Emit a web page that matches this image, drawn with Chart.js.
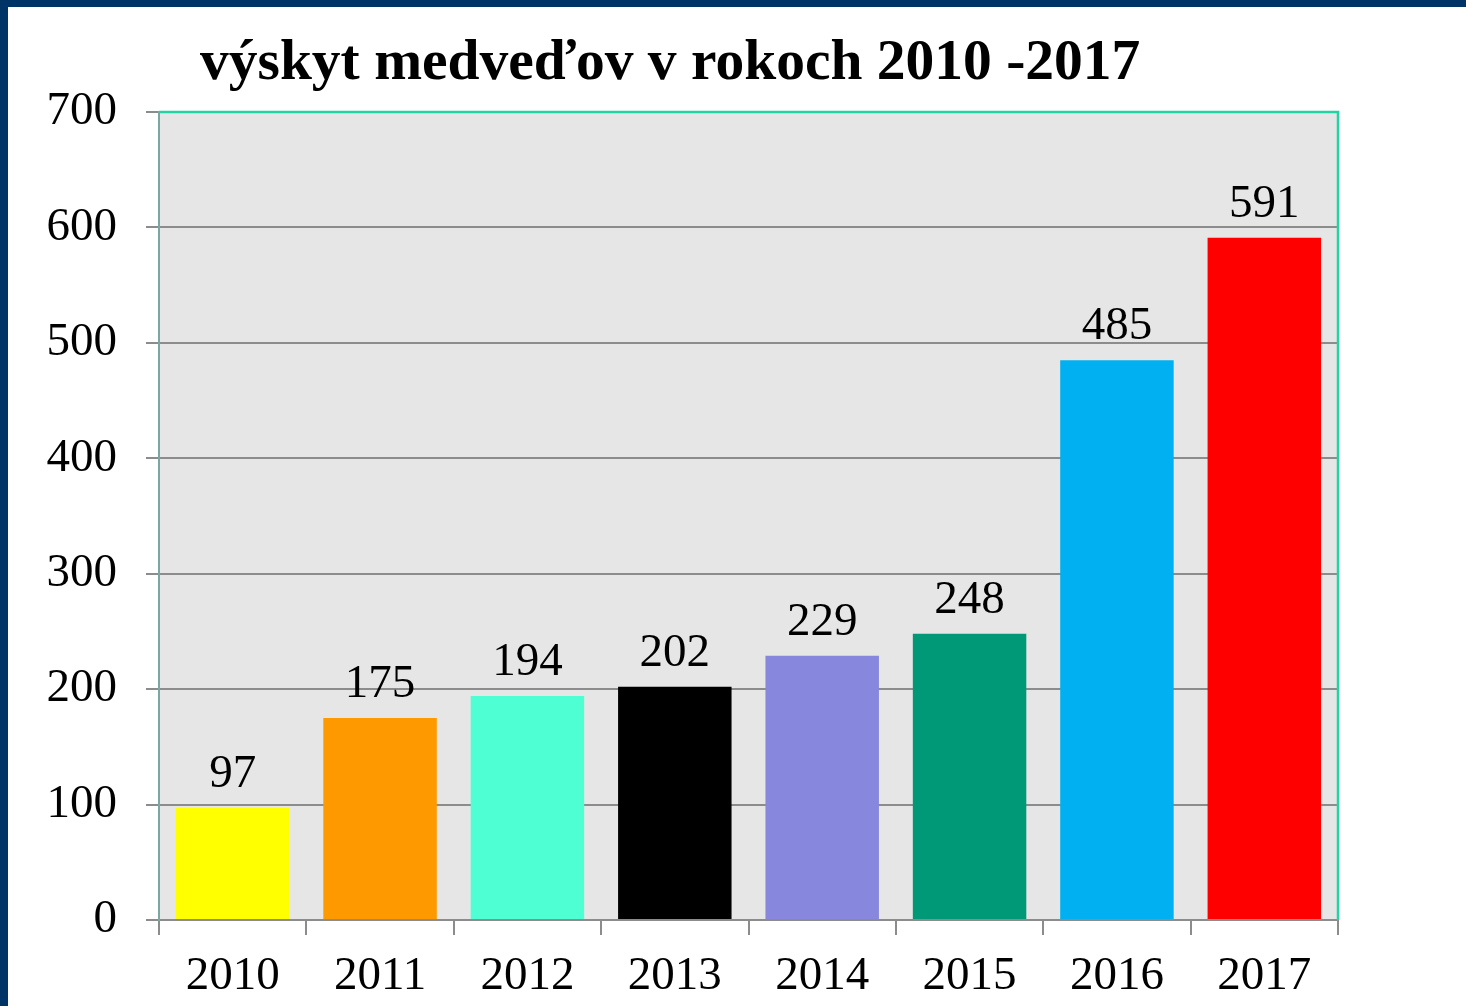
<!DOCTYPE html>
<html>
<head>
<meta charset="utf-8">
<script src="https://cdn.jsdelivr.net/npm/chart.js@4"></script>
<style>
  html, body { margin: 0; padding: 0; background: #fff; }
  #wrap { position: relative; width: 1466px; height: 1006px; overflow: hidden; }
  #frameTop { position: absolute; left: 0; top: 0; width: 1466px; height: 7px; background: #003366; }
  #frameLeft { position: absolute; left: 0; top: 0; width: 8px; height: 1006px; background: #003366; }
  #title { position: absolute; left: 200px; top: 27px; margin: 0;
    font: bold 57.5px "Liberation Serif", "Times New Roman", serif; color: #000; white-space: nowrap; }
  canvas { position: absolute; left: 0; top: 0; }
</style>
</head>
<body>
<div id="wrap">
  <canvas id="bearChart" width="1466" height="1006"></canvas>
  <div id="frameTop"></div>
  <div id="frameLeft"></div>
  <h1 id="title">výskyt medveďov v rokoch 2010 -2017</h1>
</div>
<script>
// data
var years = ["2010", "2011", "2012", "2013", "2014", "2015", "2016", "2017"];
var bears = [97, 175, 194, 202, 229, 248, 485, 591];
var barColors = ["#ffff00", "#ff9900", "#4dffd2", "#000000", "#8787de", "#009977", "#00b0f0", "#ff0000"];

var serif = "'Liberation Serif', 'Times New Roman', serif";

// grey plot background and teal frame on top/right
var plotFrame = {
  id: "plotFrame",
  beforeDraw: function(chart) {
    var a = chart.chartArea, ctx = chart.ctx;
    ctx.save();
    ctx.fillStyle = "#e6e6e6";
    ctx.fillRect(a.left, a.top, a.right - a.left, a.bottom - a.top);
    ctx.restore();
  },
  afterDraw: function(chart) {
    var a = chart.chartArea, ctx = chart.ctx;
    ctx.save();
    ctx.strokeStyle = "#22d3a3";
    ctx.lineWidth = 2.5;
    ctx.beginPath();
    ctx.moveTo(a.left, a.top);
    ctx.lineTo(a.right, a.top);
    ctx.lineTo(a.right, a.bottom);
    ctx.stroke();
    ctx.restore();
  }
};

// value labels above the bars
var valueLabels = {
  id: "valueLabels",
  afterDatasetsDraw: function(chart) {
    var ctx = chart.ctx;
    var meta = chart.getDatasetMeta(0);
    ctx.save();
    ctx.font = "47px " + serif;
    ctx.fillStyle = "#000";
    ctx.textAlign = "center";
    ctx.textBaseline = "alphabetic";
    meta.data.forEach(function(bar, i) {
      ctx.fillText(String(bears[i]), bar.x, bar.y - 21);
    });
    ctx.restore();
  }
};

var ctx = document.getElementById("bearChart");
var bearChart = new Chart(ctx, {
  type: "bar",
  data: {
    labels: years,
    datasets: [{
      data: bears,
      backgroundColor: barColors,
      borderWidth: 0,
      barPercentage: 0.77,
      categoryPercentage: 1.0
    }]
  },
  options: {
    responsive: false,
    animation: false,
    layout: { padding: { top: 112, right: 128, left: 0, bottom: 0 } },
    plugins: {
      legend: { display: false },
      tooltip: { enabled: false },
      title: { display: false }
    },
    scales: {
      x: {
        afterFit: function(scale) { scale.height = 86; },
        grid: { display: true, drawOnChartArea: false, drawTicks: true, tickLength: 15, color: "#8c8c8c", lineWidth: 2, offset: true },
        border: { display: true, color: "#8c8c8c", width: 2 },
        ticks: { color: "#000", font: { family: serif, size: 47 }, padding: 13, maxRotation: 0 }
      },
      y: {
        min: 0,
        max: 700,
        afterFit: function(scale) { scale.width = 159; },
        grid: { color: "#8c8c8c", lineWidth: 2, tickLength: 13 },
        border: { display: true, color: "#7aa8a0", width: 2 },
        ticks: { stepSize: 100, color: "#000", font: { family: serif, size: 47 }, padding: 29 }
      }
    }
  },
  plugins: [plotFrame, valueLabels]
});
</script>
</body>
</html>
